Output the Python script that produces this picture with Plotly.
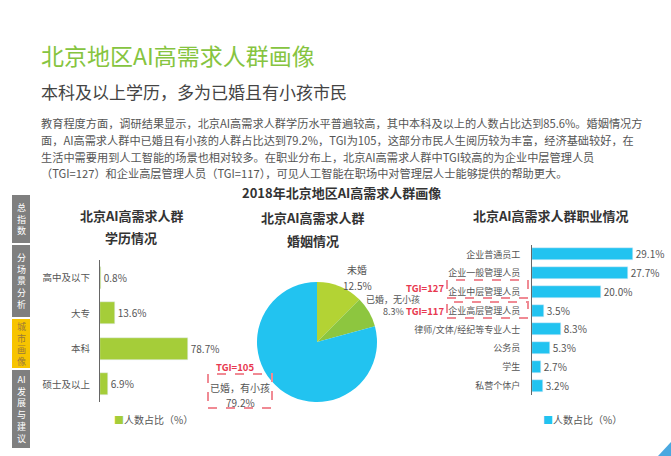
import plotly.graph_objects as go

W, H = 671, 456
FONT = "Noto Sans CJK SC"

# ---------------- data ----------------
edu_cats = ["高中及以下", "大专", "本科", "硕士及以上"]
edu_vals = [0.8, 13.6, 78.7, 6.9]

marital_labels = ["未婚", "已婚，无小孩", "已婚，有小孩"]
marital_vals = [12.5, 8.3, 79.2]

job_cats = ["企业普通员工", "企业一般管理人员", "企业中层管理人员", "企业高层管理人员",
            "律师/文体/经纪等专业人士", "公务员", "学生", "私营个体户"]
job_vals = [29.1, 27.7, 20.0, 3.5, 8.3, 5.3, 2.7, 3.2]

tgi_labels = ["TGI=105", "TGI=127", "TGI=117"]
nav_items = ["总指数", "分场景分析", "城市画像", "AI发展与建议"]

GREEN_BAR = "#a5cd39"
PIE_COLORS = ["#b3d334", "#8dc63f", "#22c3f0"]
CYAN = "#22c3f0"
TXT = "#555555"
RED = "#e8384f"
PINK = "#f08a94"


def px(x):
    return x / W


def py(y):
    return 1 - y / H


fig = go.Figure()

fig.add_trace(go.Bar(
    x=edu_vals, y=edu_cats, orientation="h", marker_color=GREEN_BAR,
    width=0.62, text=[f"{v}%" for v in edu_vals], textposition="outside",
    constraintext="none",
    textfont=dict(size=10, color=TXT, family=FONT), cliponaxis=False,
    xaxis="x", yaxis="y", showlegend=False, hoverinfo="skip"))

fig.add_trace(go.Bar(
    x=job_vals, y=job_cats, orientation="h", marker_color=CYAN,
    width=0.64, text=[f"{v:.1f}%" for v in job_vals], textposition="outside",
    constraintext="none",
    textfont=dict(size=10, color=TXT, family=FONT), cliponaxis=False,
    xaxis="x2", yaxis="y2", showlegend=False, hoverinfo="skip"))

fig.add_trace(go.Pie(
    values=marital_vals, labels=marital_labels, sort=False, direction="clockwise",
    rotation=0, marker=dict(colors=PIE_COLORS), textinfo="none", showlegend=False,
    domain=dict(x=[px(257), px(377)], y=[py(402), py(282)]), hoverinfo="skip"))

axis_common = dict(showgrid=False, zeroline=False)
fig.update_layout(
    width=W, height=H, margin=dict(l=0, r=0, t=0, b=0),
    paper_bgcolor="white", plot_bgcolor="rgba(0,0,0,0)",
    font=dict(family=FONT, color=TXT),
    bargap=0,
    xaxis=dict(domain=[px(100), px(212)], range=[0, 100], visible=False, anchor="y", **axis_common),
    yaxis=dict(domain=[py(402), py(260)], autorange="reversed", anchor="x",
               showline=True, linecolor="#666666", linewidth=1, ticks="",
               ticklabelstandoff=7, tickfont=dict(size=9.5, color=TXT, family=FONT), **axis_common),
    xaxis2=dict(domain=[px(532), px(653)], range=[0, 35], visible=False, anchor="y2", **axis_common),
    yaxis2=dict(domain=[py(395), py(245)], autorange="reversed", anchor="x2",
                showline=True, linecolor="#666666", linewidth=1, ticks="",
                ticklabelstandoff=9, tickfont=dict(size=9, color=TXT, family=FONT), **axis_common),
)

ann = []


def text(x, y, s, size=11, color=TXT, xanchor="center", bold=False):
    if bold:
        s = f"<b>{s}</b>"
    ann.append(dict(x=px(x), y=py(y), xref="paper", yref="paper", text=s, showarrow=False,
                    xanchor=xanchor, yanchor="middle", font=dict(size=size, color=color, family=FONT)))


# titles
text(39, 55, "北京地区AI高需求人群画像", size=23, color="#86c440", xanchor="left")
text(39, 92, "本科及以上学历，多为已婚且有小孩市民", size=17, color="#444444", xanchor="left")

para = [
    "教育程度方面，调研结果显示，北京AI高需求人群学历水平普遍较高，其中本科及以上的人数占比达到85.6%。婚姻情况方",
    "面，AI高需求人群中已婚且有小孩的人群占比达到79.2%，TGI为105，这部分市民人生阅历较为丰富，经济基础较好，在",
    "生活中需要用到人工智能的场景也相对较多。在职业分布上，北京AI高需求人群中TGI较高的为企业中层管理人员",
    "（TGI=127）和企业高层管理人员（TGI=117），可见人工智能在职场中对管理层人士能够提供的帮助更大。",
]
for i, line in enumerate(para):
    text(39, 123 + i * 16.8, line, size=11.2, color="#555555", xanchor="left")

text(341, 192, "2018年北京地区AI高需求人群画像", size=13, color="#333333", bold=True)
text(132, 215, "北京AI高需求人群", size=13, color="#333333", bold=True)
text(131, 238, "学历情况", size=13, color="#333333", bold=True)
text(313, 217, "北京AI高需求人群", size=13, color="#333333", bold=True)
text(313, 240, "婚姻情况", size=13, color="#333333", bold=True)
text(551, 215, "北京AI高需求人群职业情况", size=13, color="#333333", bold=True)

# pie labels
text(357, 269, marital_labels[0], size=10)
text(357, 285, f"{marital_vals[0]}%", size=10)
text(393, 299.5, marital_labels[1], size=9)
text(393, 311, f"{marital_vals[1]}%", size=9)
text(240, 387, marital_labels[2], size=10)
text(240, 402, f"{marital_vals[2]}%", size=10)

# TGI labels
text(235, 367, tgi_labels[0], size=9.5, color=RED, bold=True)
text(446, 287.5, tgi_labels[1], size=9.5, color=RED, xanchor="right", bold=True)
text(446, 311, tgi_labels[2], size=9.5, color=RED, xanchor="right", bold=True)

# legends
text(112, 419, f"<span style='color:{GREEN_BAR}'>■</span>人数占比（%）", size=10, xanchor="left")
text(541, 419, f"<span style='color:{CYAN}'>■</span>人数占比（%）", size=10, xanchor="left")

# sidebar
segs = [(195, 243, "#7f7f7f"), (245, 317, "#7f7f7f"), (319, 368, "#f7c400"), (370, 448, "#7f7f7f")]
shapes = []
for (y0, y1, c), name in zip(segs, nav_items):
    shapes.append(dict(type="rect", xref="paper", yref="paper", x0=px(12), x1=px(30),
                       y0=py(y1), y1=py(y0), fillcolor=c, line=dict(width=0), layer="below"))
    chars = ["AI"] + list(name[2:]) if name.startswith("AI") else list(name)
    col = "#9a7a3a" if c == "#f7c400" else "white"
    ann.append(dict(x=px(21), y=py((y0 + y1) / 2), xref="paper", yref="paper",
                    text="<br>".join(chars), showarrow=False, xanchor="center", yanchor="middle",
                    font=dict(size=9, color=col, family=FONT)))

# dashed boxes
for (x0, y0, x1, y1) in [(208, 374, 272, 408), (447, 280, 528, 298), (447, 302, 528, 318)]:
    shapes.append(dict(type="rect", xref="paper", yref="paper", x0=px(x0), x1=px(x1),
                       y0=py(y1), y1=py(y0), line=dict(color=PINK, width=2, dash="dash")))

# corner decoration
shapes.append(dict(type="path", xref="paper", yref="paper",
                   path=f"M {px(658)} {py(456)} L {px(671)} {py(442)} L {px(671)} {py(456)} Z",
                   fillcolor="#4aa8e0", line=dict(width=0)))

fig.update_layout(annotations=ann, shapes=shapes)
fig.write_html("out.html", config={"displayModeBar": False},
               post_script="document.body.style.margin='0px';")
